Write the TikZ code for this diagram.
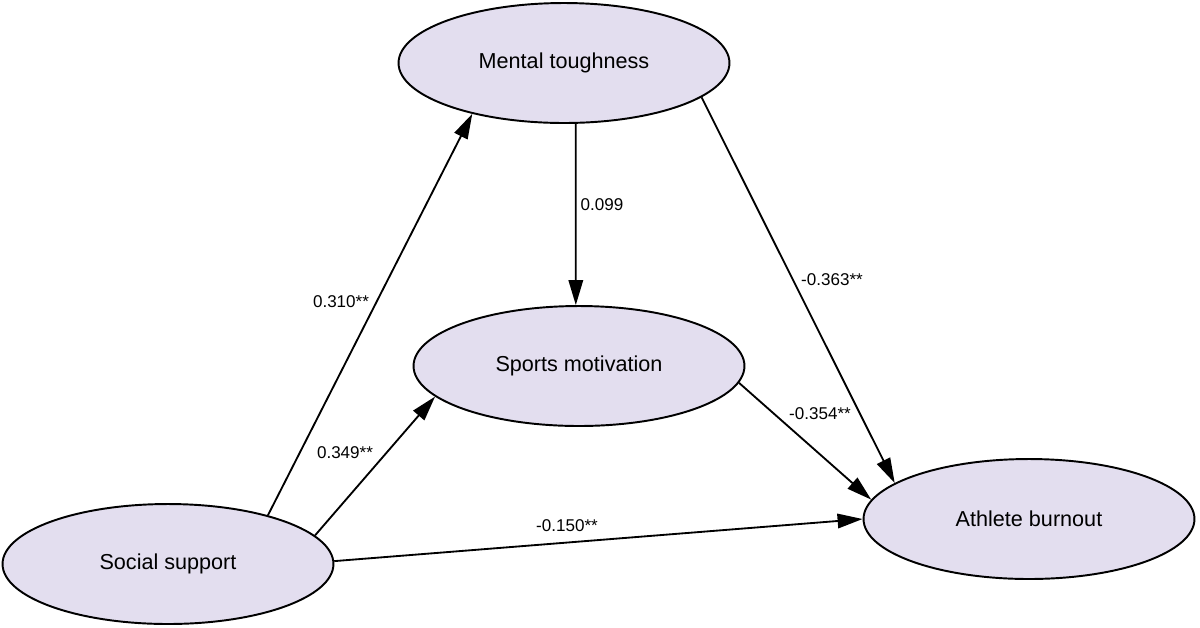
\documentclass[tikz,border=0pt]{standalone}
\usepackage{fontspec}
\setmainfont{Liberation Sans}
\usetikzlibrary{shapes.geometric,arrows.meta}
\definecolor{nodefill}{RGB}{227,222,239}
\tikzset{
  var/.style={ellipse, draw=black, line width=1.1pt, fill=nodefill,
    minimum width=6.62cm, minimum height=2.4cm, inner sep=0pt,
    font=\fontsize{12.3}{14}\selectfont},
  path/.style={draw=black, line width=1.05pt, -{Triangle[length=0.5cm,width=0.29cm]}},
  coef/.style={font=\fontsize{9.7}{11}\selectfont, inner sep=0pt}
}
\begin{document}
\begin{tikzpicture}[x=0.02cm,y=-0.02cm]
\useasboundingbox (0,0) rectangle (1200,627);
\node[var] (mt) at (564,63) {Mental toughness};
\node[var] (sm) at (579,366) {Sports motivation};
\node[var] (ss) at (168,564) {Social support};
\node[var] (ab) at (1029,519) {Athlete burnout};

\draw[path] (ss.26) -- (mt.209.5);
\draw[path] (ss.11) -- (sm.192);
\draw[path] (ss.1.4) -- (ab.180.3);
\draw[path] (mt.-79.6) -- (sm.93.5);
\draw[path] (mt.-14.4) -- (ab.165);
\draw[path] (sm.-6.9) -- (ab.173.9);

\node[coef] (c1) at (341,302) {0.310**};
\node[coef] (c2) at (345,453) {0.349**};
\node[coef] (c3) at (567,526) {-0.150**};
\node[coef] (c4) at (602,205) {0.099};
\node[coef] (c5) at (832,280) {-0.363**};
\node[coef] (c6) at (820,414) {-0.354**};
\end{tikzpicture}
\end{document}
